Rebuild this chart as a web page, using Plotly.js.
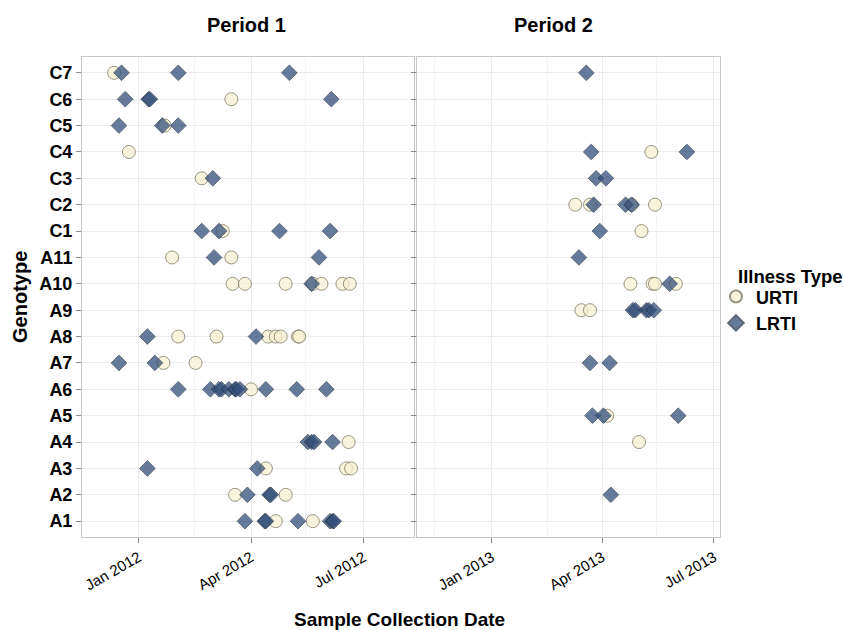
<!DOCTYPE html>
<html><head><meta charset="utf-8">
<script src="https://cdn.plot.ly/plotly-3.0.1.min.js"></script>
<style>html,body{margin:0;padding:0;background:#fff}#chart{width:843px;height:630px}</style>
</head><body><div id="chart"></div>
<script>
const genotypes = ["A1","A2","A3","A4","A5","A6","A7","A8","A9","A10","A11","C1","C2","C3","C4","C5","C6","C7"];

const urtiGenotype = [
 "C7","C6","C5","C4","C3","C1","A11","A11",
 "A10","A10","A10","A10","A10","A10","A10",
 "A8","A8","A8","A8","A8","A8","A8",
 "A7","A7","A6","A4","A3","A3","A3","A2","A2","A1","A1",
 "C4","C2","C2","C2","C2","C1","A10","A10","A10","A10","A9","A9","A5","A4"];
const urtiDate = [
 "2011-12-12","2012-03-16","2012-01-22","2011-12-24","2012-02-21","2012-03-09","2012-01-28","2012-03-16",
 "2012-03-17","2012-03-27","2012-04-29","2012-05-21","2012-05-28","2012-06-14","2012-06-20",
 "2012-02-02","2012-03-04","2012-04-15","2012-04-21","2012-04-25","2012-05-09","2012-05-10",
 "2012-01-21","2012-02-16","2012-04-01","2012-06-19","2012-04-13","2012-06-17","2012-06-21","2012-03-19","2012-04-29","2012-04-21","2012-05-21",
 "2013-05-11","2013-03-10","2013-03-22","2013-04-25","2013-05-14","2013-05-03","2013-04-24","2013-05-12","2013-05-14","2013-05-31","2013-03-15","2013-03-22","2013-04-05","2013-05-01"];

const lrtiGenotype = [
 "C7","C7","C7","C6","C6","C6","C6","C5","C5","C5","C3",
 "C1","C1","C1","C1","A11","A11","A10","A8","A8","A7","A7",
 "A6","A6","A6","A6","A6","A6","A6","A6","A6","A6","A6",
 "A4","A4","A4","A4","A3","A3","A2","A2","A2",
 "A1","A1","A1","A1","A1","A1","A1",
 "C7","C4","C4","C3","C3","C2","C2","C2","C1","A11","A10",
 "A9","A9","A9","A9","A9","A7","A7","A5","A5","A5","A2"];
const lrtiDate = [
 "2011-12-18","2012-02-02","2012-05-02","2011-12-21","2012-01-09","2012-01-10","2012-06-05","2011-12-16","2012-01-20","2012-02-02","2012-03-01",
 "2012-02-21","2012-03-06","2012-04-24","2012-06-04","2012-03-02","2012-05-26","2012-05-20","2012-01-08","2012-04-05","2011-12-16","2012-01-14",
 "2012-02-02","2012-02-28","2012-03-06","2012-03-08","2012-03-14","2012-03-19","2012-03-20","2012-03-23","2012-04-13","2012-05-08","2012-06-01",
 "2012-05-17","2012-05-20","2012-05-22","2012-06-06","2012-01-08","2012-04-06","2012-03-29","2012-04-16","2012-04-17",
 "2012-03-27","2012-04-12","2012-04-13","2012-05-09","2012-06-04","2012-06-06","2012-06-07",
 "2013-03-19","2013-03-23","2013-06-09","2013-03-27","2013-04-04","2013-03-25","2013-04-20","2013-04-25","2013-03-30","2013-03-13","2013-05-26",
 "2013-04-26","2013-04-28","2013-05-07","2013-05-09","2013-05-13","2013-03-22","2013-04-07","2013-03-24","2013-04-02","2013-06-02","2013-04-08"];

const periodSplit = "2012-10-01";

function split(dates, genos, second) {
  const x = [], y = [];
  dates.forEach((d, i) => { if ((d >= periodSplit) === second) { x.push(d); y.push(genos[i]); } });
  return {x, y};
}

const urtiMarker = {symbol:"circle", size:13, color:"#f8f1d2", opacity:0.75, line:{color:"#77725c", width:1}};
const lrtiMarker = {symbol:"diamond", size:12, color:"#34507a", opacity:0.75, line:{color:"#26344a", width:1}};

const traces = [];
[false, true].forEach((second, k) => {
  const u = split(urtiDate, urtiGenotype, second);
  const l = split(lrtiDate, lrtiGenotype, second);
  traces.push({type:"scatter", mode:"markers", name:"URTI", x:u.x, y:u.y, marker:urtiMarker,
    xaxis: k ? "x2" : "x", yaxis: k ? "y2" : "y", showlegend: !k, legendgroup:"u"});
  traces.push({type:"scatter", mode:"markers", name:"LRTI", x:l.x, y:l.y, marker:lrtiMarker,
    xaxis: k ? "x2" : "x", yaxis: k ? "y2" : "y", showlegend: !k, legendgroup:"l"});
});

const font = "Liberation Sans, Arial, sans-serif";
const xCommon = {
  type:"date", dtick:"M3", tick0:"2012-01-01", tickformat:"%b %Y", tickangle:-30,
  tickfont:{family:font, size:15, color:"#000"},
  showgrid:true, gridcolor:"#ebebeb", gridwidth:1,
  ticks:"outside", ticklen:5, tickcolor:"#8a8a8a",
  showline:true, mirror:true, linecolor:"#c8c8c8", linewidth:1,
  zeroline:false,
  minor:{dtick:"M3", tick0:"2011-11-15", showgrid:true, gridcolor:"#f4f4f4", ticks:""}
};
const yCommon = {
  type:"category", categoryorder:"array", categoryarray:genotypes, range:[-0.6, 17.6],
  showgrid:true, gridcolor:"#ebebeb", ticks:"outside", ticklen:5, tickcolor:"#8a8a8a",
  showline:true, mirror:true, linecolor:"#c8c8c8", linewidth:1, zeroline:false,
  tickfont:{family:font, size:18, color:"#000", weight:"bold"}
};

const boldFont = s => ({family:font, size:s, color:"#000", weight:"bold"});

const layout = {
  width:843, height:630,
  margin:{l:82, r:123, t:57, b:93},
  paper_bgcolor:"#fff", plot_bgcolor:"#fff",
  font:{family:font, color:"#000"},
  xaxis:Object.assign({}, xCommon, {domain:[0, 0.5204], range:["2011-11-16","2012-08-11"], anchor:"y"}),
  xaxis2:Object.assign({}, xCommon, {domain:[0.5251, 1], range:["2012-11-01","2013-07-06"], anchor:"y2"}),
  yaxis:Object.assign({}, yCommon, {anchor:"x"}),
  yaxis2:Object.assign({}, yCommon, {anchor:"x2", matches:"y", showticklabels:false}),
  legend:{x:0.9937, xanchor:"left", y:0.539, yanchor:"top",
    font:boldFont(18), tracegroupgap:0, itemsizing:"constant", bgcolor:"rgba(0,0,0,0)"},
  annotations:[
    {text:"Period 1", xref:"paper", yref:"paper", x:0.2586, y:1, yshift:32, xanchor:"center", yanchor:"middle",
     showarrow:false, font:boldFont(20)},
    {text:"Period 2", xref:"paper", yref:"paper", x:0.7398, y:1, yshift:32, xanchor:"center", yanchor:"middle",
     showarrow:false, font:boldFont(20)},
    {text:"Sample Collection Date", xref:"paper", yref:"paper", x:0.497, y:0, yshift:-82, xanchor:"center", yanchor:"middle",
     showarrow:false, font:boldFont(19)},
    {text:"Genotype", xref:"paper", yref:"paper", x:-0.0972, y:0.5, textangle:-90, xanchor:"center", yanchor:"middle",
     showarrow:false, font:boldFont(20)},
    {text:"Illness Type", xref:"paper", yref:"paper", x:1.0251, y:0.5417, xanchor:"left", yanchor:"middle",
     showarrow:false, font:boldFont(18.5)}
  ]
};

Plotly.newPlot("chart", traces, layout, {displayModeBar:false, staticPlot:true});
</script>
</body></html>
